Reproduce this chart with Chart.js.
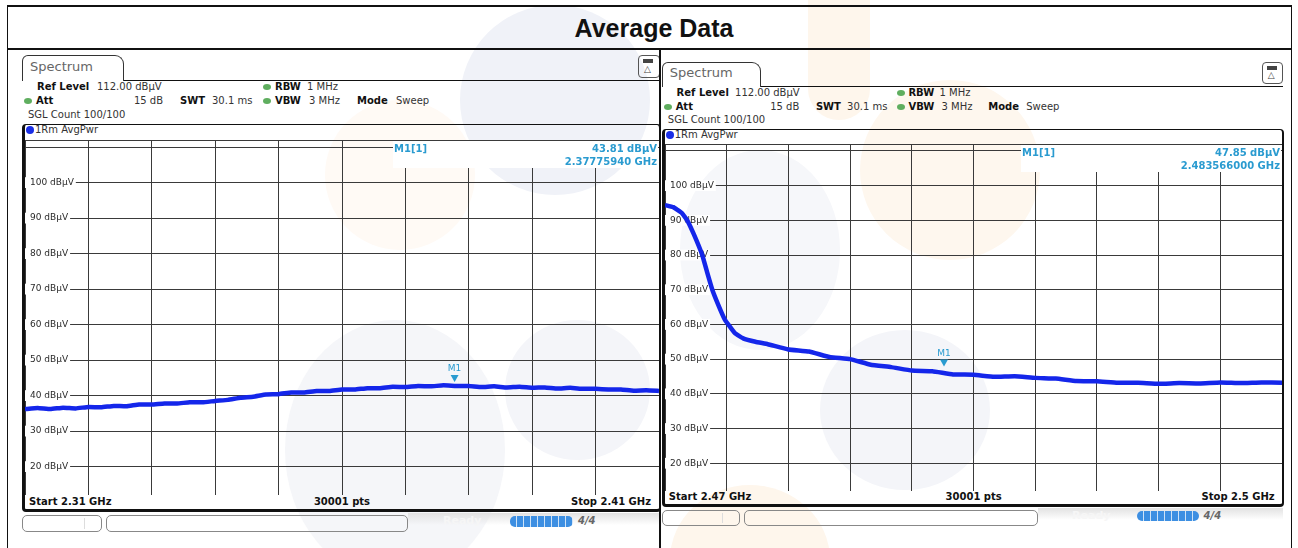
<!DOCTYPE html>
<html>
<head>
<meta charset="utf-8">
<script src="https://cdn.jsdelivr.net/npm/chart.js@4/dist/chart.umd.min.js"></script>
<style>
body { margin: 0; width: 1298px; height: 548px; background: #fff; position: relative; overflow: hidden; font-family: "DejaVu Sans", sans-serif; }
.wm { position: absolute; border-radius: 50%; z-index: 0; }
.ln { position: absolute; background: #111; z-index: 3; }
.t { position: absolute; font-size: 10px; line-height: 12px; color: #333; white-space: nowrap; z-index: 2; }
.b { font-weight: bold; color: #111; }
.dot { position: absolute; width: 8px; height: 6px; border-radius: 50%; background: #5fae5f; z-index: 2; }
.box { position: absolute; border: 1px solid #333; z-index: 2; box-sizing: border-box; }
canvas { position: absolute; z-index: 2; }
</style>
</head>
<body>

<!-- faint logo watermark in the background -->
<div class="wm" style="left:460px;top:5px;width:190px;height:190px;background:#f0f2f8"></div>
<div class="wm" style="left:325px;top:100px;width:150px;height:150px;background:#fffaf5"></div>
<div class="wm" style="left:808px;top:-40px;width:62px;height:160px;border-radius:31px;background:#fef6ec"></div>
<div class="wm" style="left:860px;top:80px;width:180px;height:180px;background:#fef7ee"></div>
<div class="wm" style="left:285px;top:320px;width:220px;height:260px;background:#f5f6f9"></div>
<div class="wm" style="left:505px;top:320px;width:145px;height:140px;background:#f4f5f9"></div>
<div class="wm" style="left:680px;top:150px;width:160px;height:200px;background:#f6f7fa"></div>
<div class="wm" style="left:820px;top:330px;width:170px;height:160px;background:#f4f5f9"></div>
<div class="wm" style="left:670px;top:485px;width:160px;height:150px;background:#fef6ec"></div>

<!-- outer table lines -->
<div class="ln" style="left:7px;top:5px;width:1285px;height:2px"></div>
<div class="ln" style="left:7px;top:48px;width:1285px;height:2px"></div>
<div class="ln" style="left:7px;top:5px;width:1px;height:543px"></div>
<div class="ln" style="left:1291px;top:5px;width:1px;height:543px"></div>
<div class="ln" style="left:659px;top:48px;width:2px;height:500px"></div>
<div class="t b" style="left:0;width:1308px;top:14px;text-align:center;font:bold 25px 'Liberation Sans',Arial,sans-serif;line-height:28px;color:#111">Average Data</div>

<div id="panels"></div>
<canvas id="chartL" width="634" height="355" style="left:25px;top:140px"></canvas>
<canvas id="chartR" width="617" height="347" style="left:665px;top:144px"></canvas>

<script>
// y grid of both screens: ref level 112 dBµV, 10 dB / div
const yTickValues = [12, 20, 30, 40, 50, 60, 70, 80, 90, 100, 110, 112];
const yTickLabels = ['', '20 dBµV', '30 dBµV', '40 dBµV', '50 dBµV', '60 dBµV', '70 dBµV', '80 dBµV', '90 dBµV', '100 dBµV', '', ''];

// left screen: 2.31 - 2.41 GHz
const startL = 2.31;
const stopL = 2.41;
const freqL = Array.from({ length: 51 }, (_, i) => +(startL + i * 0.002).toFixed(4));
const levelL = [36.2, 36.5, 36.2, 36.6, 36.4, 36.8, 36.7, 37.1, 37.0, 37.5,
    37.5, 37.8, 37.8, 38.1, 38.1, 38.5, 38.8, 39.4, 39.7, 40.3,
    40.4, 40.9, 40.9, 41.3, 41.3, 41.7, 41.7, 42.1, 42.1, 42.5,
    42.4, 42.7, 42.6, 42.9, 42.7, 42.7, 42.4, 42.6, 42.3, 42.5,
    42.2, 42.3, 42.0, 42.2, 41.9, 41.9, 41.7, 41.7, 41.4, 41.5, 41.3];
const markerL = { freq: 2.3777594, level: 43.81, text1: '43.81 dBµV', text2: '2.37775940 GHz' };

// right screen: 2.47 - 2.5 GHz
const startR = 2.47;
const stopR = 2.5;
const freqR = [2.47000, 2.47040, 2.47080, 2.47108, 2.47140, 2.47181, 2.47205, 2.47230, 2.47260, 2.47290,
    2.47310, 2.47340, 2.47380, 2.47440, 2.47500, 2.47600, 2.47700, 2.47800, 2.47900, 2.48000,
    2.48100, 2.48200, 2.48300, 2.48400, 2.48500, 2.48600, 2.48700, 2.48800, 2.48900, 2.49000,
    2.49100, 2.49200, 2.49300, 2.49400, 2.49500, 2.49600, 2.49700, 2.49800, 2.49900, 2.50000];
const levelR = [94.4, 93.8, 92.2, 90.0, 86.0, 80.0, 75.0, 70.0, 65.5, 61.5,
    59.8, 57.5, 56.0, 55.0, 54.3, 52.8, 52.2, 50.6, 50.0, 48.4,
    47.7, 46.7, 46.5, 45.6, 45.5, 44.9, 45.1, 44.6, 44.4, 43.7,
    43.6, 43.2, 43.2, 42.9, 43.1, 43.0, 43.3, 43.1, 43.3, 43.2];
const markerR = { freq: 2.483566, level: 47.85, text1: '47.85 dBµV', text2: '2.483566000 GHz' };

// draws the R&S screen furniture around a plot; s = scale of the screenshot
function panelHTML(ox, oy, s, start, stop) {
    const X = v => ox + v * s;
    const Y = v => oy + v * s;
    const txt = (x, cy, str, bold, extra) =>
        `<div class="t${bold ? ' b' : ''}" style="left:${X(x)}px;top:${Y(cy) - 6}px;${extra || ''}">${str}</div>`;
    const rtxt = (x, cy, str, bold) =>
        `<div class="t${bold ? ' b' : ''}" style="right:${1298 - X(x)}px;top:${Y(cy) - 6}px">${str}</div>`;
    const dot = (x, cy) => `<div class="dot" style="left:${X(x)}px;top:${Y(cy) - 3}px"></div>`;
    const st = 'border-radius:5px;border-color:#888';
    return `
    <div class="box" style="left:${X(0)}px;top:${Y(0)}px;width:${102 * s}px;height:${26 * s}px;border-bottom:none;border-radius:6px 9px 0 0"></div>
    <div class="ln" style="left:${X(102)}px;top:${Y(25)}px;width:${536 * s}px;height:1px"></div>
    <div class="t" style="left:${X(8)}px;top:${Y(12) - 8}px;font-size:13px;line-height:16px;color:#666">Spectrum</div>
    <div class="box" style="left:${X(616)}px;top:${Y(0)}px;width:${22 * s}px;height:${23 * s}px;border-radius:4px;border-color:#555"></div>
    <div class="ln" style="left:${X(621)}px;top:${Y(4)}px;width:10px;height:4px;background:#444"></div>
    <div class="t" style="left:${X(622)}px;top:${Y(9)}px;font-size:9px;line-height:10px;color:#444">△</div>
    ${txt(15, 32, 'Ref Level', true)}${txt(75, 32, '112.00 dBµV')}
    ${dot(241, 32)}${txt(253, 32, 'RBW', true)}${txt(285, 32, '1 MHz')}
    ${dot(2, 46)}${txt(14, 46, 'Att', true)}${rtxt(141, 46, '15 dB')}
    ${txt(158, 46, 'SWT', true)}${txt(190, 46, '30.1 ms')}
    ${dot(241, 46)}${txt(253, 46, 'VBW', true)}${txt(287, 46, '3 MHz')}
    ${txt(335, 46, 'Mode', true)}${txt(374, 46, 'Sweep')}
    ${txt(6, 60, 'SGL Count 100/100')}
    <div class="box" style="left:${X(0)}px;top:${Y(69)}px;width:${639 * s}px;height:${388 * s}px;border-width:1px 2px 3px 3px;border-color:#111;border-radius:4px"></div>
    <div class="dot" style="left:${X(4)}px;top:${Y(75) - 4}px;width:8px;height:8px;background:#1a2ee6"></div>
    ${txt(13, 75, '1Rm AvgPwr')}
    ${txt(7, 447, 'Start ' + start + ' GHz', true)}
    <div class="t b" style="left:${X(320)}px;top:${Y(447) - 6}px;transform:translateX(-50%)">30001 pts</div>
    ${rtxt(629, 447, 'Stop ' + stop + ' GHz', true)}
    <div class="wm" style="left:${X(386)}px;top:${Y(458)}px;width:${252 * s}px;height:12px;border-radius:0;background:linear-gradient(#e2e2e2,rgba(255,255,255,0))"></div>
    <div class="box" style="left:${X(0)}px;top:${Y(460)}px;width:${80 * s}px;height:${17 * s}px;${st}"></div>
    <div class="ln" style="left:${X(62)}px;top:${Y(463)}px;width:1px;height:${11 * s}px;background:#ddd"></div>
    <div class="box" style="left:${X(84)}px;top:${Y(460)}px;width:${302 * s}px;height:${17 * s}px;${st}"></div>
    <div class="t b" style="left:${X(421)}px;top:${Y(467) - 7}px;font-size:11px;color:#f6f6f6">Ready</div>
    <div class="ln" style="left:${X(488)}px;top:${Y(461)}px;width:${63 * s}px;height:${11 * s}px;border-radius:5px;background:repeating-linear-gradient(90deg,#3d8fe2 0 6px,#cfe3f7 6px 7px)"></div>
    <div class="t b" style="left:${X(556)}px;top:${Y(466) - 6}px;font-style:italic;color:#666">4/4</div>`;
}

document.getElementById('panels').innerHTML =
    panelHTML(22, 55, 1, startL, stopL) + panelHTML(662, 61.7, 0.974, startR, stopR);

const markerPlugin = {
    id: 'marker',
    afterDraw(chart, args, opts) {
        const { ctx, chartArea } = chart;
        const x = chart.scales.x;
        const y = chart.scales.y;
        ctx.save();
        // marker info block hides the top of the grid
        ctx.fillStyle = '#fff';
        ctx.fillRect(chartArea.left + opts.boxX, chartArea.top + 1, chartArea.right - opts.boxX - 1, opts.boxH);
        ctx.fillStyle = '#2a9bd0';
        ctx.font = 'bold 10px "DejaVu Sans"';
        ctx.textBaseline = 'middle';
        ctx.textAlign = 'left';
        ctx.fillText('M1[1]', opts.boxX + 1, 9);
        ctx.textAlign = 'right';
        ctx.fillText(opts.m.text1, chartArea.right - 2, 9);
        ctx.fillText(opts.m.text2, chartArea.right - 2, 22);
        // marker triangle on the trace
        const px = x.getPixelForValue(opts.m.freq);
        const py = y.getPixelForValue(opts.m.level);
        ctx.beginPath();
        ctx.moveTo(px - 4, py - 7);
        ctx.lineTo(px + 4, py - 7);
        ctx.lineTo(px, py);
        ctx.closePath();
        ctx.fill();
        ctx.font = '9px "DejaVu Sans"';
        ctx.textAlign = 'center';
        ctx.fillText('M1', px, py - 13);
        ctx.restore();
    }
};

function showChart(id, freqs, levels, start, stop, marker, boxX) {
    new Chart(document.getElementById(id), {
        type: 'line',
        data: {
            datasets: [{
                data: freqs.map((f, i) => ({ x: f, y: levels[i] })),
                borderColor: '#1426ea',
                borderWidth: 4.5,
                pointRadius: 0,
                tension: 0.1
            }]
        },
        options: {
            responsive: false,
            animation: false,
            events: [],
            layout: { padding: 0 },
            plugins: {
                legend: { display: false },
                tooltip: { enabled: false },
                marker: { m: marker, boxX: boxX, boxH: 27 }
            },
            scales: {
                x: {
                    type: 'linear',
                    min: start,
                    max: stop,
                    afterBuildTicks: s => { s.ticks = Array.from({ length: 11 }, (_, i) => ({ value: start + (stop - start) * i / 10 })); },
                    afterFit: s => { s.height = 0; s.paddingLeft = 0; s.paddingRight = 0; },
                    ticks: { display: false },
                    grid: { color: '#3a3a3a', lineWidth: 1, drawTicks: false },
                    border: { display: false }
                },
                y: {
                    min: 12,
                    max: 112,
                    afterBuildTicks: s => { s.ticks = yTickValues.map(v => ({ value: v })); },
                    afterFit: s => { s.width = 0; s.paddingTop = 0; s.paddingBottom = 0; },
                    ticks: {
                        mirror: true,
                        padding: 5,
                        color: '#2a2a2a',
                        font: { family: 'DejaVu Sans', size: 9 },
                        callback: v => yTickLabels[yTickValues.indexOf(v)],
                        showLabelBackdrop: true,
                        backdropColor: c => (c.tick && c.tick.value >= 20 && c.tick.value <= 100) ? '#fff' : 'rgba(0,0,0,0)',
                        backdropPadding: { left: 6, right: 2, top: 0, bottom: 0 }
                    },
                    grid: { color: '#3a3a3a', lineWidth: 1, drawTicks: false },
                    border: { display: false }
                }
            }
        },
        plugins: [markerPlugin]
    });
}

showChart('chartL', freqL, levelL, startL, stopL, markerL, 368);
showChart('chartR', freqR, levelR, startR, stopR, markerR, 356);
</script>
</body>
</html>
